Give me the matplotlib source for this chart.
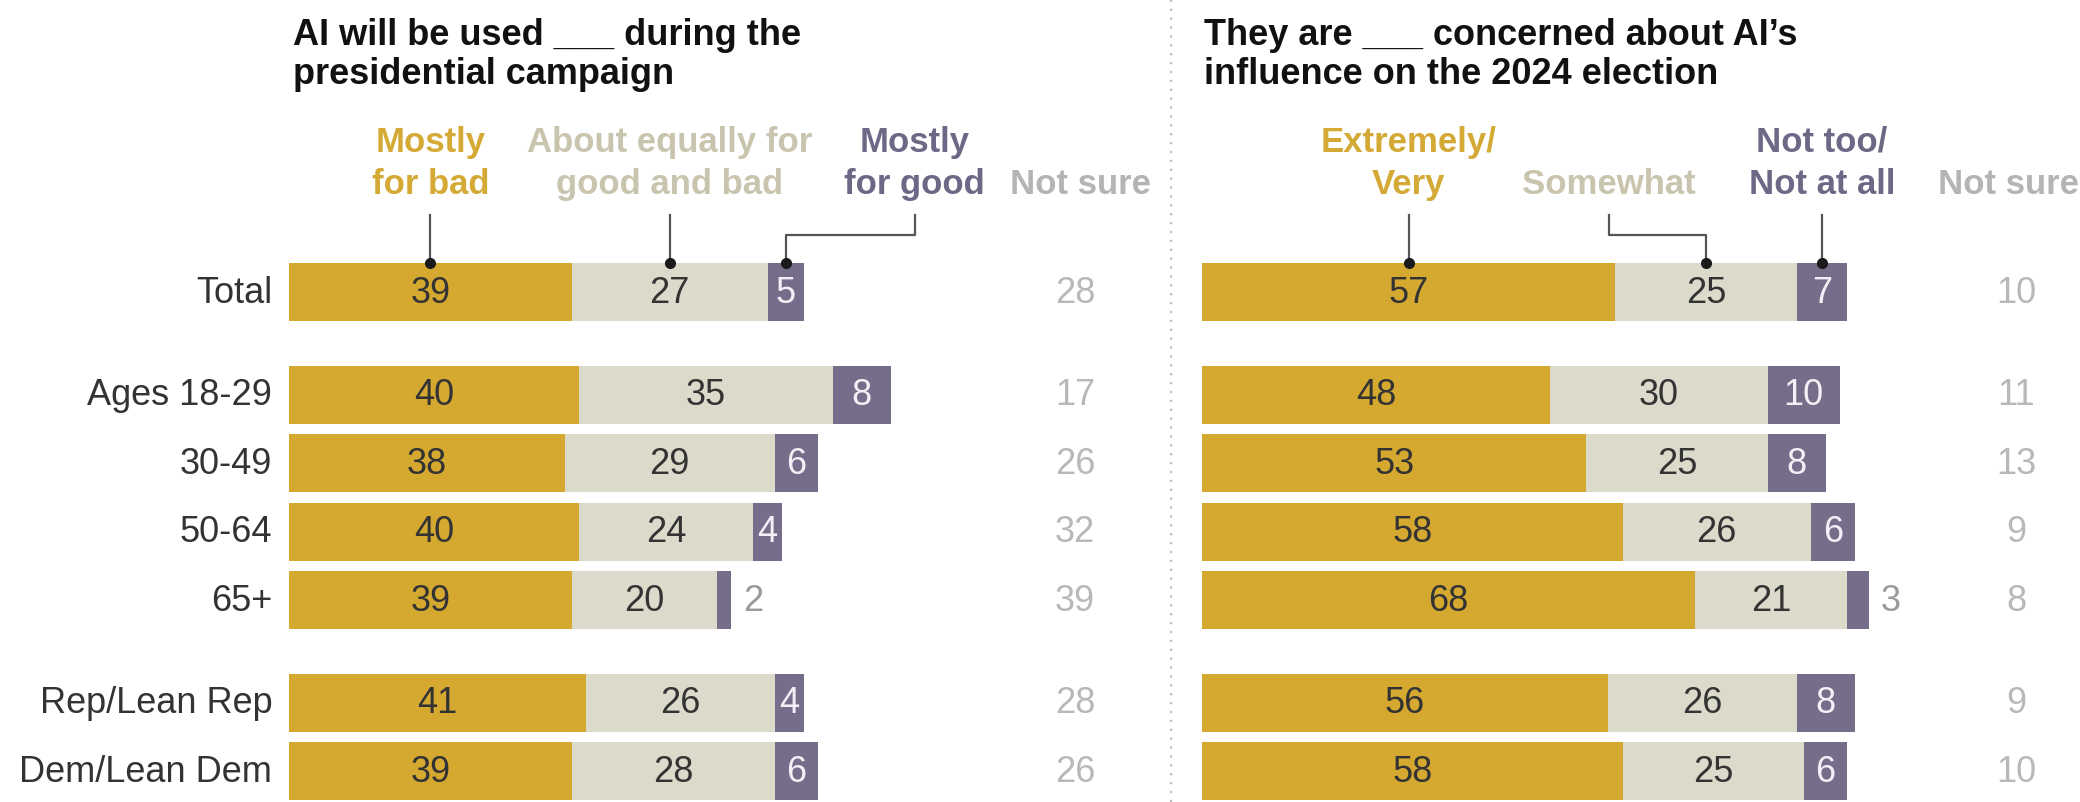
import matplotlib
matplotlib.use("Agg")
import matplotlib.pyplot as plt
from matplotlib.lines import Line2D
import numpy as np

# ---------------- data ----------------
groups = ["Total", "Ages 18-29", "30-49", "50-64", "65+", "Rep/Lean Rep", "Dem/Lean Dem"]
row_pos = [0, 1.5, 2.5, 3.5, 4.5, 6, 7]

left_bad = [39, 40, 38, 40, 39, 41, 39]
left_equal = [27, 35, 29, 24, 20, 26, 28]
left_good = [5, 8, 6, 4, 2, 4, 6]
left_notsure = [28, 17, 26, 32, 39, 28, 26]

right_very = [57, 48, 53, 58, 68, 56, 58]
right_somewhat = [25, 30, 25, 26, 21, 26, 25]
right_nottoo = [7, 10, 8, 6, 3, 8, 6]
right_notsure = [10, 11, 13, 9, 8, 9, 10]

left_title = "AI will be used ___ during the\npresidential campaign"
right_title = "They are ___ concerned about AI\u2019s\ninfluence on the 2024 election"
left_headers = ["Mostly\nfor bad", "About equally for\ngood and bad", "Mostly\nfor good", "Not sure"]
right_headers = ["Extremely/\nVery", "Somewhat", "Not too/\nNot at all", "Not sure"]

# ---------------- style ----------------
C_YEL = "#D5A930"
C_BEI = "#DCDACB"
C_PUR = "#766D8B"
H_YEL = "#D4A935"
H_BEI = "#C9C4AE"
H_PUR = "#6F6786"
H_NS = "#B4B4B4"
TXT = "#333333"
BOLD = ["Liberation Sans", "DejaVu Sans"]
REG = ["Liberation Sans", "DejaVu Sans"]

VAL_FS = 26
LAB_FS = 26
HEAD_FS = 25
TITLE_FS = 26

fig = plt.figure(figsize=(20.8, 8.03), dpi=100)
PXU = 7.25  # pixels per percentage point
H = 803.0
top_px = 258.8
ax_h = (H - top_px) / H


def make_ax(left_px, xmax):
    return fig.add_axes([left_px / 2080.0, 0.0, xmax * PXU / 2080.0, ax_h])


axL = make_ax(289, 110)
axR = make_ax(1202, 118)

for ax, xmax in ((axL, 110), (axR, 118)):
    ax.set_xlim(0, xmax)
    ax.set_ylim(7.45, -0.5)
    ax.axis("off")

BAR_H = 0.85
HEAD_BASE_Y = -1.45
CONN_TOP_Y = -1.13
ELBOW_Y = -0.83
BAR_TOP_Y = -BAR_H / 2


def draw_panel(ax, a, b, c, ns, ns_x, headers, head_x, title, title_x, elbows, labels=False):
    a = np.array(a); b = np.array(b); c = np.array(c)
    ax.barh(row_pos, a, height=BAR_H, color=C_YEL, linewidth=0)
    ax.barh(row_pos, b, left=a, height=BAR_H, color=C_BEI, linewidth=0)
    ax.barh(row_pos, c, left=a + b, height=BAR_H, color=C_PUR, linewidth=0)
    for i, y in enumerate(row_pos):
        ax.text(a[i] / 2, y, str(a[i]), ha="center", va="center", fontsize=VAL_FS,
                color=TXT, family=REG)
        ax.text(a[i] + b[i] / 2, y, str(b[i]), ha="center", va="center", fontsize=VAL_FS,
                color=TXT, family=REG)
        if c[i] >= 4:
            ax.text(a[i] + b[i] + c[i] / 2, y, str(c[i]), ha="center", va="center",
                    fontsize=VAL_FS, color="#F2F0F6", family=REG)
        else:
            ax.text(a[i] + b[i] + c[i] + 1.6, y, str(c[i]), ha="left", va="center",
                    fontsize=VAL_FS, color="#9A9A9A", family=REG)
        ax.text(ns_x, y, str(ns[i]), ha="center", va="center", fontsize=VAL_FS,
                color="#B8B8B8", family=REG)
        if labels:
            ax.text(-2.3, y, groups[i], ha="right", va="center", fontsize=LAB_FS,
                    color=TXT, family=REG, clip_on=False)

    # headers
    seg_centers = [a[0] / 2, a[0] + b[0] / 2, a[0] + b[0] + c[0] / 2]
    colors = [H_YEL, H_BEI, H_PUR, H_NS]
    for k in range(4):
        ax.text(head_x[k], HEAD_BASE_Y, headers[k], ha="center", va="baseline",
                fontsize=HEAD_FS, color=colors[k], family=BOLD, fontweight="bold",
                linespacing=1.35, clip_on=False)
    # connectors
    for k in range(3):
        xs = seg_centers[k]
        if elbows[k]:
            ax.add_line(Line2D([head_x[k], head_x[k], xs, xs],
                               [CONN_TOP_Y, ELBOW_Y, ELBOW_Y, BAR_TOP_Y],
                               color="#555555", lw=1.6, clip_on=False))
        else:
            ax.add_line(Line2D([xs, xs], [CONN_TOP_Y, BAR_TOP_Y], color="#555555",
                               lw=1.6, clip_on=False))
        ax.plot([xs], [BAR_TOP_Y], "o", color="#1a1a1a", ms=7, clip_on=False, zorder=5)

    ax.text(title_x, -3.06, title, ha="left", va="baseline", fontsize=TITLE_FS,
            color="#111111", family=BOLD, fontweight="bold", linespacing=1.15,
            clip_on=False)


l_head_x = [left_bad[0] / 2, left_bad[0] + left_equal[0] / 2, 86.3, 109.2]
r_head_x = [right_very[0] / 2, 56.1, right_very[0] + right_somewhat[0] + right_nottoo[0] / 2, 111.3]

draw_panel(axL, left_bad, left_equal, left_good, left_notsure, 108.4,
           left_headers, l_head_x, left_title, 0.6, [False, False, True], labels=True)
draw_panel(axR, right_very, right_somewhat, right_nottoo, right_notsure, 112.3,
           right_headers, r_head_x, right_title, 0.3, [False, True, False])

# dotted divider
fig.add_artist(Line2D([1171 / 2080.0, 1171 / 2080.0], [0.0, 1.0], transform=fig.transFigure,
                      color="#BDBDBD", lw=1.6, linestyle=(0, (1, 3))))

fig.savefig("out.png", dpi=100, facecolor="white")
